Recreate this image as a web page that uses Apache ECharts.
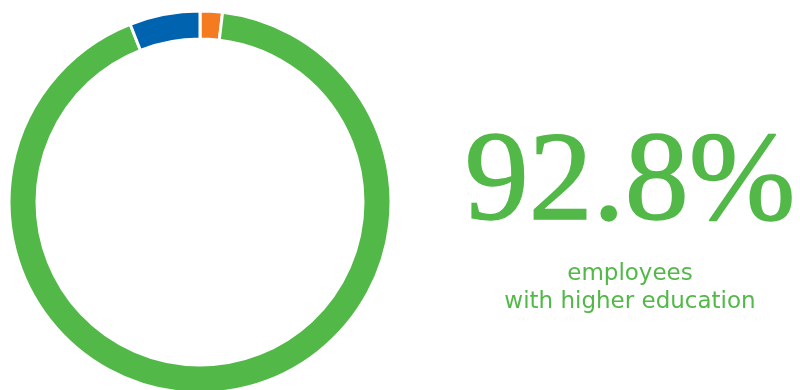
<!DOCTYPE html>
<html>
<head>
<meta charset="utf-8">
<script src="https://cdn.jsdelivr.net/npm/echarts@6/dist/echarts.min.js"></script>
<style>
  html, body { margin: 0; padding: 0; background: #fff; }
  #chart { width: 800px; height: 390px; }
</style>
</head>
<body>
<div id="chart"></div>
<script>
// segments in clockwise order from the top
const categories = ['other', 'higher education', 'secondary']
const values = [1.9, 92.8, 6.0]
const colors = ['#f47b20', '#52b848', '#0063b0']
const captionLines = ['employees', 'with higher education']

const mychart = echarts.init(document.getElementById('chart'))
const mainValue = values[categories.indexOf('higher education')]

const option = {
  animation: false,
  series: [
    {
      type: 'pie',
      center: [200, 202],
      radius: [163, 191],
      startAngle: 90,
      clockwise: true,
      label: { show: false },
      labelLine: { show: false },
      emphasis: { disabled: true },
      itemStyle: {
        borderColor: '#fff',
        borderWidth: 3,
      },
      data: categories.map((name, i) => ({
        name: name,
        value: values[i],
        itemStyle: { color: colors[i] },
      })),
    },
  ],
  graphic: [
    {
      type: 'text',
      x: 630,
      y: 249,
      style: {
        text: mainValue.toFixed(1) + '%',
        fill: '#52b848',
        stroke: '#52b848',
        lineWidth: 1.5,
        font: '128px "Liberation Serif", serif',
        textAlign: 'center',
        textVerticalAlign: 'bottom',
      },
    },
    {
      type: 'text',
      x: 630,
      y: 274,
      style: {
        text: captionLines[0],
        fill: '#52b848',
        font: '23px "DejaVu Sans", sans-serif',
        textAlign: 'center',
        textVerticalAlign: 'middle',
      },
    },
    {
      type: 'text',
      x: 630,
      y: 302,
      style: {
        text: captionLines[1],
        fill: '#52b848',
        font: '23px "DejaVu Sans", sans-serif',
        textAlign: 'center',
        textVerticalAlign: 'middle',
      },
    },
  ],
}
mychart.setOption(option)
</script>
</body>
</html>
